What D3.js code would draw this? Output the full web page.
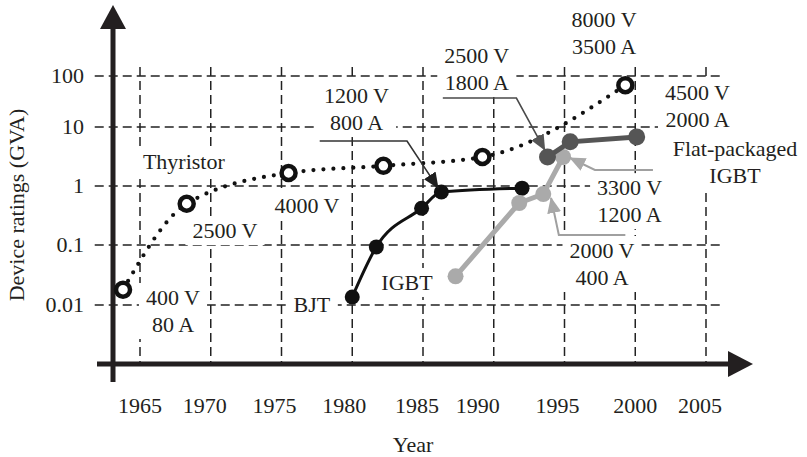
<!DOCTYPE html>
<html><head><meta charset="utf-8">
<script src="https://cdn.jsdelivr.net/npm/d3@7"></script>
<style>
body{margin:0;background:#fff}
svg{display:block}
text{font-family:"Liberation Serif","Times New Roman",serif;font-size:22px;fill:#231f20}
</style>
</head><body>
<svg id="chart" width="807" height="457"></svg>
<script>
// ---------- data ----------
const gridYears = [1965,1970,1975,1980,1985,1990,1995,2000,2005];
const yearLabels = ["1965","1970","1975","1980","1985","1990","1995","2000","2005"];
const gvaTicks = [0.01,0.1,1,10,100];
const gvaLabels = ["0.01","0.1","1","10","100"];

const thyristorYears = [1963.8,1968.3,1975.5,1982.2,1989.2,1999.3];
const thyristorGVA   = [0.018,0.5,1.66,2.2,3.1,66];
const bjtYears = [1980.0,1981.7,1984.9,1986.3,1992.0];
const bjtGVA   = [0.0136,0.093,0.42,0.79,0.92];
const igbtYears = [1987.3,1991.8,1993.5,1994.9];
const igbtGVA   = [0.030,0.515,0.73,3.1];
const flatYears = [1993.8,1995.4,2000.1];
const flatGVA   = [3.1,5.6,6.8];

// annotation texts, anchored in data units (year, GVA)
const notes = [
  {lines:["400 V","80 A"], year:1967.33, gva:0.0100},
  {lines:["2500 V"], year:1971.0, gva:0.131},
  {lines:["Thyristor"], year:1968.1, gva:1.94},
  {lines:["4000 V"], year:1976.8, gva:0.35},
  {lines:["1200 V","800 A"], year:1980.3, gva:29.5},
  {lines:["2500 V","1800 A"], year:1988.8, gva:180},
  {lines:["8000 V","3500 A"], year:1997.8, gva:912},
  {lines:["4500 V","2000 A"], year:2004.4, gva:33.8},
  {lines:["Flat-packaged","IGBT"], year:2007.05, gva:3.22},
  {lines:["3300 V","1200 A"], year:1999.6, gva:0.70},
  {lines:["2000 V","400 A"], year:1997.65, gva:0.0607},
  {lines:["BJT"], year:1977.15, gva:0.00764},
  {lines:["IGBT"], year:1983.87, gva:0.0178}
];
// callout arrows (year, GVA) polyline, last point = tip
const calloutYears = [
  [1977.7,1983.87,1986.06],
  [1986.4,1991.6,1993.6],
  [2001.25,1997.15,1995.4],
  [1999.3,1994.6,1994.05]
];
const calloutGVA = [
  [5.79,5.79,0.93],
  [37,37,4.08],
  [1.87,1.87,2.98],
  [0.148,0.148,0.626]
];
const calloutColors = ["#333","#4a4a4a","#a0a0a0","#a0a0a0"];
const calloutHeads  = ["#1e1e1e","#555","#a8a8a8","#a8a8a8"];

// ---------- layout / scales ----------
const svg = d3.select("#chart");
const x = d3.scaleLinear().domain([1965,2005]).range([140,706]);
const y = d3.scaleLog().domain(gvaTicks).range([305,245,186,127,76]);
const gridTop = 150, gridLeft = 1961.8, gridRight = 2006.0;
const axisX = 113, axisY = 364;
const labelNudge = [0,-6,-7,-8,-6,-16,-7,0,-6];
const ink = "#231f20";

// grid
const grid = svg.append("g").attr("stroke","#222").attr("stroke-width",1.5).attr("stroke-dasharray","9,5");
grid.selectAll("line.h").data(gvaTicks).join("line")
  .attr("x1",x(gridLeft)).attr("x2",x(gridRight))
  .attr("y1",d=>y(d)).attr("y2",d=>y(d));
grid.selectAll("line.v").data(gridYears).join("line")
  .attr("x1",d=>x(d)).attr("x2",d=>x(d))
  .attr("y1",y(gridTop)).attr("y2",axisY);

// annotation labels with white boxes
const lineH = 27;
const noteG = svg.append("g");
notes.forEach(n=>{
  const g = noteG.append("g");
  const t = g.append("text").attr("text-anchor","middle");
  n.lines.forEach((l,i)=>{
    t.append("tspan").attr("x",x(n.year)).attr("y",y(n.gva)+i*lineH).text(l);
  });
  const b = t.node().getBBox();
  g.insert("rect","text").attr("x",b.x-7).attr("y",b.y-2).attr("width",b.width+14).attr("height",b.height+4).attr("fill","#fff");
});

// axes
svg.append("line").attr("x1",axisX).attr("x2",axisX).attr("y1",26).attr("y2",382).attr("stroke",ink).attr("stroke-width",5);
svg.append("path").attr("d",`M${axisX-13},29 L${axisX},5 L${axisX+13},29 Z`).attr("fill",ink);
svg.append("line").attr("x1",97).attr("x2",730).attr("y1",axisY).attr("y2",axisY).attr("stroke",ink).attr("stroke-width",5);
svg.append("path").attr("d",`M728,${axisY-13} L753,${axisY} L728,${axisY+13} Z`).attr("fill",ink);

// tick labels
svg.append("g").selectAll("text").data(gvaTicks).join("text")
  .attr("x",84).attr("y",d=>y(d)).attr("dy","0.34em").attr("text-anchor","end")
  .text((d,i)=>gvaLabels[i]);
svg.append("g").selectAll("text").data(gridYears).join("text")
  .attr("x",(d,i)=>x(d)+labelNudge[i]).attr("y",413).attr("text-anchor","middle")
  .text((d,i)=>yearLabels[i]);

// axis titles
svg.append("text").attr("transform","translate(24,205) rotate(-90)").attr("text-anchor","middle").text("Device ratings (GVA)");
svg.append("text").attr("x",413).attr("y",452).attr("text-anchor","middle").text("Year");

// series
const pts = (xs,ys)=>xs.map((v,i)=>[x(v),y(ys[i])]);
const curve = d3.line().curve(d3.curveMonotoneX);
const straight = d3.line();

// thyristor dotted
svg.append("path").attr("d",curve(pts(thyristorYears,thyristorGVA)))
  .attr("fill","none").attr("stroke","#111").attr("stroke-width",4.2)
  .attr("stroke-linecap","round").attr("stroke-dasharray","0,10");
svg.append("g").selectAll("circle").data(pts(thyristorYears,thyristorGVA)).join("circle")
  .attr("cx",d=>d[0]).attr("cy",d=>d[1]).attr("r",7).attr("fill","#fff").attr("stroke","#111").attr("stroke-width",4.5);

// BJT
svg.append("path").attr("d",curve(pts(bjtYears,bjtGVA))).attr("fill","none").attr("stroke","#111").attr("stroke-width",3);
svg.append("g").selectAll("circle").data(pts(bjtYears,bjtGVA)).join("circle")
  .attr("cx",d=>d[0]).attr("cy",d=>d[1]).attr("r",7.5).attr("fill","#111");

// IGBT light gray
svg.append("path").attr("d",straight(pts(igbtYears,igbtGVA))).attr("fill","none").attr("stroke","#aaa").attr("stroke-width",5);
svg.append("g").selectAll("circle").data(pts(igbtYears,igbtGVA)).join("circle")
  .attr("cx",d=>d[0]).attr("cy",d=>d[1]).attr("r",8).attr("fill","#aaa");

// Flat-packaged IGBT dark gray
svg.append("path").attr("d",straight(pts(flatYears,flatGVA))).attr("fill","none").attr("stroke","#555").attr("stroke-width",5);
svg.append("g").selectAll("circle").data(pts(flatYears,flatGVA)).join("circle")
  .attr("cx",d=>d[0]).attr("cy",d=>d[1]).attr("r",8.5).attr("fill","#555");

// callout arrows
const defs = svg.append("defs");
calloutHeads.forEach((c,i)=>{
  defs.append("marker").attr("id","ah"+i).attr("viewBox","0 0 16 14")
    .attr("refX",15).attr("refY",7).attr("markerWidth",16).attr("markerHeight",14)
    .attr("markerUnits","userSpaceOnUse").attr("orient","auto")
    .append("path").attr("d","M0,0 L16,7 L0,14 Z").attr("fill",c);
});
calloutYears.forEach((ys,i)=>{
  svg.append("path").attr("d",straight(pts(ys,calloutGVA[i])))
    .attr("fill","none").attr("stroke",calloutColors[i]).attr("stroke-width",i<2?1.6:2)
    .attr("marker-end",`url(#ah${i})`);
});
</script>
</body></html>
